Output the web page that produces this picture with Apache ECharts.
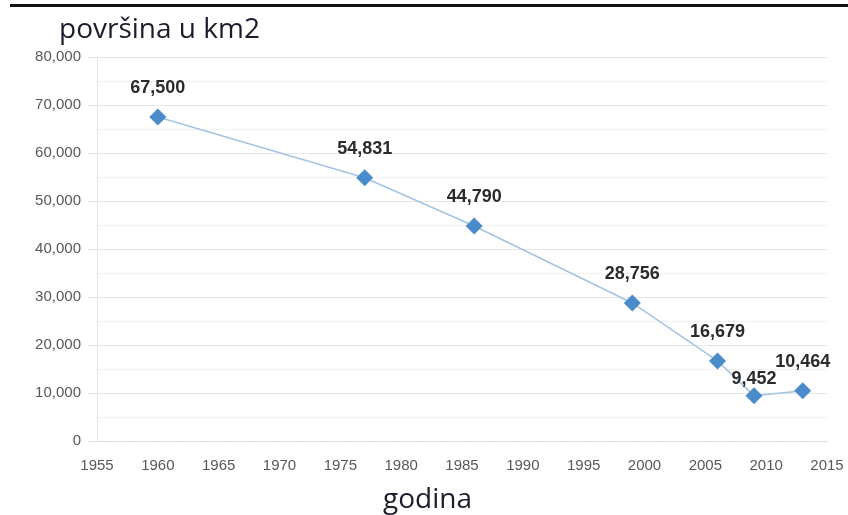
<!DOCTYPE html>
<html><head><meta charset="utf-8">
<script src="https://cdn.jsdelivr.net/npm/echarts@6/dist/echarts.min.js"></script>
<style>html,body{margin:0;padding:0;background:#fff}#c{width:848px;height:515px}</style>
</head><body><div id="c"></div>
<script>
const years = [1960, 1977, 1986, 1999, 2006, 2009, 2013];
const area = [67500, 54831, 44790, 28756, 16679, 9452, 10464];
const titleText = 'površina u km2';
const xTitle = 'godina';

const chart = echarts.init(document.getElementById('c'));
const titleStyle = {fontFamily: 'Open Sans', fontWeight: 'normal', fontSize: 28, color: '#1c1c2c'};
chart.setOption({
  animation: false,
  backgroundColor: '#fff',
  title: [
    {text: titleText, left: 54, top: 11, textStyle: titleStyle},
    {text: xTitle, left: 378, top: 481, textStyle: titleStyle}
  ],
  graphic: [{type: 'rect', shape: {x: 10, y: 4, width: 838, height: 3}, style: {fill: '#111'}}],
  grid: {left: 97, right: 21, top: 57, bottom: 74},
  xAxis: {
    type: 'value', min: 1955, max: 2015, interval: 5,
    axisLine: {show: true, lineStyle: {color: '#dcdcdc', type: 'dashed'}},
    axisTick: {show: false},
    axisLabel: {fontFamily: 'Liberation Sans', fontSize: 15, color: '#585858', margin: 17,
      formatter: v => String(v)},
    splitLine: {show: false}
  },
  yAxis: {
    type: 'value', min: 0, max: 80000, interval: 10000,
    axisLine: {show: true, lineStyle: {color: '#e6e6e6'}},
    axisTick: {show: true, length: 9, lineStyle: {color: '#e6e6e6'}},
    axisLabel: {fontFamily: 'Liberation Sans', fontSize: 15, color: '#585858', margin: 16,
      formatter: v => v === 0 ? '0' : v.toLocaleString('en-US')},
    splitLine: {lineStyle: {color: '#e6e6e6'}},
    minorTick: {show: false, splitNumber: 2},
    minorSplitLine: {show: true, lineStyle: {color: '#f1f1f1'}}
  },
  series: [{
    type: 'line',
    data: years.map((y, i) => {
      const item = {value: [y, area[i]]};
      if (i === 5) item.label = {offset: [0, 12]};
      return item;
    }),
    symbol: 'diamond', symbolSize: 17,
    itemStyle: {color: '#4a8ccb'},
    lineStyle: {color: '#a3c3e3', width: 1.5},
    label: {
      show: true, position: 'top', distance: 11,
      fontFamily: 'Liberation Sans', fontWeight: 'bold', fontSize: 18, color: '#2b2b2b',
      formatter: p => p.value[1].toLocaleString('en-US')
    }
  }]
});
</script></body></html>
